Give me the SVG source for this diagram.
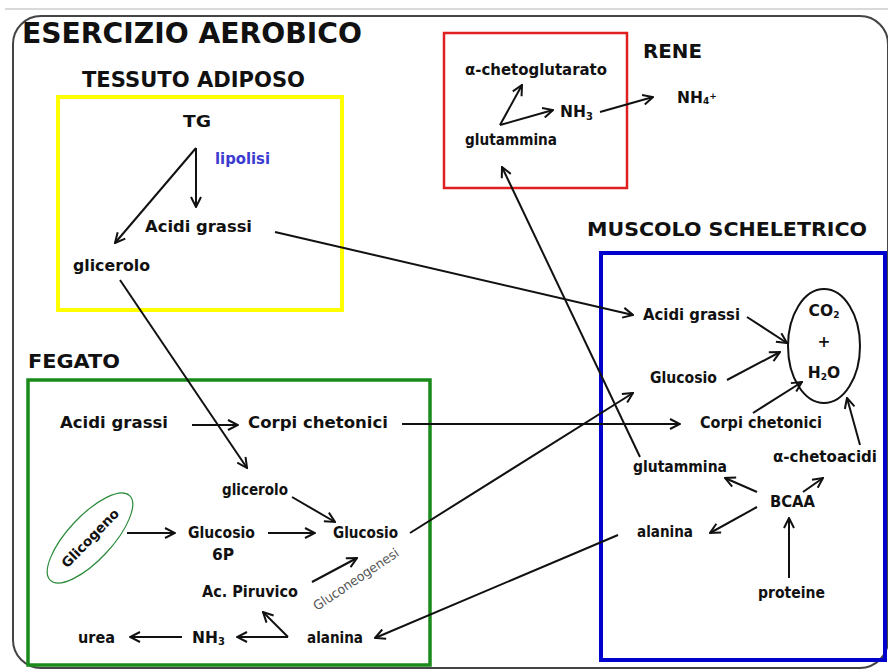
<svg xmlns="http://www.w3.org/2000/svg" width="888" height="669" viewBox="0 0 888 669">
<style>
text{font-family:"DejaVu Sans","Liberation Sans",sans-serif;font-weight:bold;fill:#111}
.lbl{font-size:16.5px}
.sm{font-size:15.5px}
.hd{font-size:21px}
.ln{stroke:#111;stroke-width:2;fill:none}
.ar{marker-end:url(#ah)}
</style>
<defs>
<marker id="ah" markerUnits="userSpaceOnUse" viewBox="0 0 12 12" markerWidth="12" markerHeight="12" refX="11" refY="6" orient="auto">
<path d="M1,1 L11,6 L1,11" fill="none" stroke="#111" stroke-width="2"/>
</marker>
</defs>
<rect width="888" height="669" fill="#fff"/>
<line x1="5" y1="9" x2="888" y2="9" stroke="#ccc" stroke-width="1.5"/>
<rect x="13" y="16" width="875" height="652" rx="28" fill="none" stroke="#444" stroke-width="2"/>
<text x="22" y="43" font-size="29" textLength="340" lengthAdjust="spacingAndGlyphs">ESERCIZIO AEROBICO</text>

<g id="tessuto-adiposo">
<text class="hd" x="82" y="87" textLength="223" lengthAdjust="spacingAndGlyphs">TESSUTO ADIPOSO</text>
<rect x="58" y="97" width="284" height="213" fill="none" stroke="#ffff00" stroke-width="4"/>
<text class="lbl" x="183" y="127" textLength="28" lengthAdjust="spacingAndGlyphs">TG</text>
<text class="lbl" x="215" y="164" textLength="55" lengthAdjust="spacingAndGlyphs" style="fill:#3b3bd0">lipolisi</text>
<text class="lbl" x="145" y="232" textLength="107" lengthAdjust="spacingAndGlyphs">Acidi grassi</text>
<text class="lbl" x="73" y="271" textLength="77" lengthAdjust="spacingAndGlyphs">glicerolo</text>
</g>

<g id="rene">
<rect x="444" y="33" width="183" height="155" fill="none" stroke="#e02020" stroke-width="2.5"/>
<text x="643" y="58" font-size="19" textLength="59" lengthAdjust="spacingAndGlyphs">RENE</text>
<text class="sm" x="465" y="75" textLength="142" lengthAdjust="spacingAndGlyphs">α-chetoglutarato</text>
<text class="sm" x="465" y="145" textLength="92" lengthAdjust="spacingAndGlyphs">glutammina</text>
<text class="sm" x="560" y="117">NH<tspan font-size="10" dy="3">3</tspan></text>
<text class="sm" x="677" y="103">NH<tspan font-size="9" dy="1">4</tspan><tspan font-size="9" dy="-5">+</tspan></text>
</g>

<g id="muscolo-scheletrico">
<text x="587" y="236" font-size="20" textLength="280" lengthAdjust="spacingAndGlyphs">MUSCOLO SCHELETRICO</text>
<rect x="601" y="253" width="284" height="407" fill="none" stroke="#0000cc" stroke-width="4"/>
<text class="sm" x="643" y="320" textLength="97" lengthAdjust="spacingAndGlyphs">Acidi grassi</text>
<text class="sm" x="650" y="383" textLength="67" lengthAdjust="spacingAndGlyphs">Glucosio</text>
<text class="sm" x="700" y="428" textLength="122" lengthAdjust="spacingAndGlyphs">Corpi chetonici</text>
<text class="sm" x="773" y="462" textLength="104" lengthAdjust="spacingAndGlyphs">α-chetoacidi</text>
<text class="sm" x="633" y="472" textLength="94" lengthAdjust="spacingAndGlyphs">glutammina</text>
<text class="sm" x="770" y="507" textLength="45" lengthAdjust="spacingAndGlyphs">BCAA</text>
<text class="sm" x="637" y="537" textLength="56" lengthAdjust="spacingAndGlyphs">alanina</text>
<text class="sm" x="758" y="598" textLength="67" lengthAdjust="spacingAndGlyphs">proteine</text>
<ellipse cx="824" cy="346" rx="36" ry="57" fill="none" stroke="#111" stroke-width="2"/>
<text class="sm" x="824" y="316" text-anchor="middle">CO<tspan font-size="9" dy="2">2</tspan></text>
<text class="sm" x="824" y="347" text-anchor="middle">+</text>
<text class="sm" x="824" y="378" text-anchor="middle">H<tspan font-size="9" dy="2">2</tspan><tspan dy="-2">O</tspan></text>
</g>

<g id="fegato">
<text x="28" y="368" font-size="20" textLength="92" lengthAdjust="spacingAndGlyphs">FEGATO</text>
<rect x="28" y="380" width="402" height="285" fill="none" stroke="#1a8a1a" stroke-width="3.5"/>
<text class="lbl" x="60" y="428" textLength="108" lengthAdjust="spacingAndGlyphs">Acidi grassi</text>
<text class="lbl" x="248" y="428" textLength="140" lengthAdjust="spacingAndGlyphs">Corpi chetonici</text>
<text class="sm" x="222" y="495" textLength="66" lengthAdjust="spacingAndGlyphs">glicerolo</text>
<text class="sm" x="188" y="538" textLength="67" lengthAdjust="spacingAndGlyphs">Glucosio</text>
<text class="sm" x="212" y="560">6P</text>
<text class="sm" x="333" y="538" textLength="65" lengthAdjust="spacingAndGlyphs">Glucosio</text>
<text class="sm" x="202" y="597" textLength="96" lengthAdjust="spacingAndGlyphs">Ac. Piruvico</text>
<text class="sm" x="307" y="643" textLength="56" lengthAdjust="spacingAndGlyphs">alanina</text>
<text class="sm" x="192" y="643">NH<tspan font-size="10" dy="2">3</tspan></text>
<text class="sm" x="78" y="643" textLength="37" lengthAdjust="spacingAndGlyphs">urea</text>
<ellipse cx="90" cy="538" rx="58" ry="22" transform="rotate(-47 90 538)" fill="none" stroke="#2a8a3a" stroke-width="1.2"/>
<text x="90" y="543" font-size="13.5" text-anchor="middle" textLength="76" lengthAdjust="spacingAndGlyphs" transform="rotate(-46 90 538)">Glicogeno</text>
<text x="317" y="611" font-size="13" textLength="100" lengthAdjust="spacingAndGlyphs" transform="rotate(-34 317 611)" style="font-weight:normal;fill:#555">Gluconeogenesi</text>
</g>

<g id="connectors">
<line class="ln ar" x1="196" y1="148" x2="196" y2="207"/>
<line class="ln ar" x1="196" y1="148" x2="115" y2="243"/>
<line class="ln ar" x1="275" y1="232" x2="633" y2="315"/>
<line class="ln ar" x1="120" y1="280" x2="247" y2="468"/>
<line class="ln ar" x1="500" y1="125" x2="522" y2="85"/>
<line class="ln ar" x1="500" y1="125" x2="553" y2="110"/>
<line class="ln ar" x1="600" y1="112" x2="653" y2="97"/>
<line class="ln ar" x1="640" y1="457" x2="502" y2="167"/>
<line class="ln ar" x1="747" y1="317" x2="787" y2="343"/>
<line class="ln ar" x1="727" y1="380" x2="780" y2="352"/>
<line class="ln ar" x1="753" y1="413" x2="802" y2="382"/>
<line class="ln ar" x1="860" y1="445" x2="847" y2="398"/>
<line class="ln ar" x1="757" y1="492" x2="725" y2="478"/>
<line class="ln ar" x1="803" y1="492" x2="823" y2="478"/>
<line class="ln ar" x1="757" y1="507" x2="710" y2="533"/>
<line class="ln ar" x1="789" y1="578" x2="789" y2="518"/>
<line class="ln ar" x1="618" y1="535" x2="375" y2="638"/>
<line class="ln ar" x1="192" y1="425" x2="238" y2="425"/>
<line class="ln ar" x1="402" y1="424" x2="680" y2="424"/>
<line class="ln ar" x1="292" y1="497" x2="335" y2="522"/>
<line class="ln ar" x1="127" y1="533" x2="175" y2="533"/>
<line class="ln ar" x1="268" y1="533" x2="315" y2="533"/>
<line class="ln ar" x1="410" y1="533" x2="633" y2="393"/>
<line class="ln ar" x1="312" y1="582" x2="357" y2="558"/>
<line class="ln ar" x1="288" y1="637" x2="237" y2="637"/>
<line class="ln ar" x1="288" y1="637" x2="263" y2="612"/>
<line class="ln ar" x1="182" y1="637" x2="130" y2="637"/>
</g>
</svg>
